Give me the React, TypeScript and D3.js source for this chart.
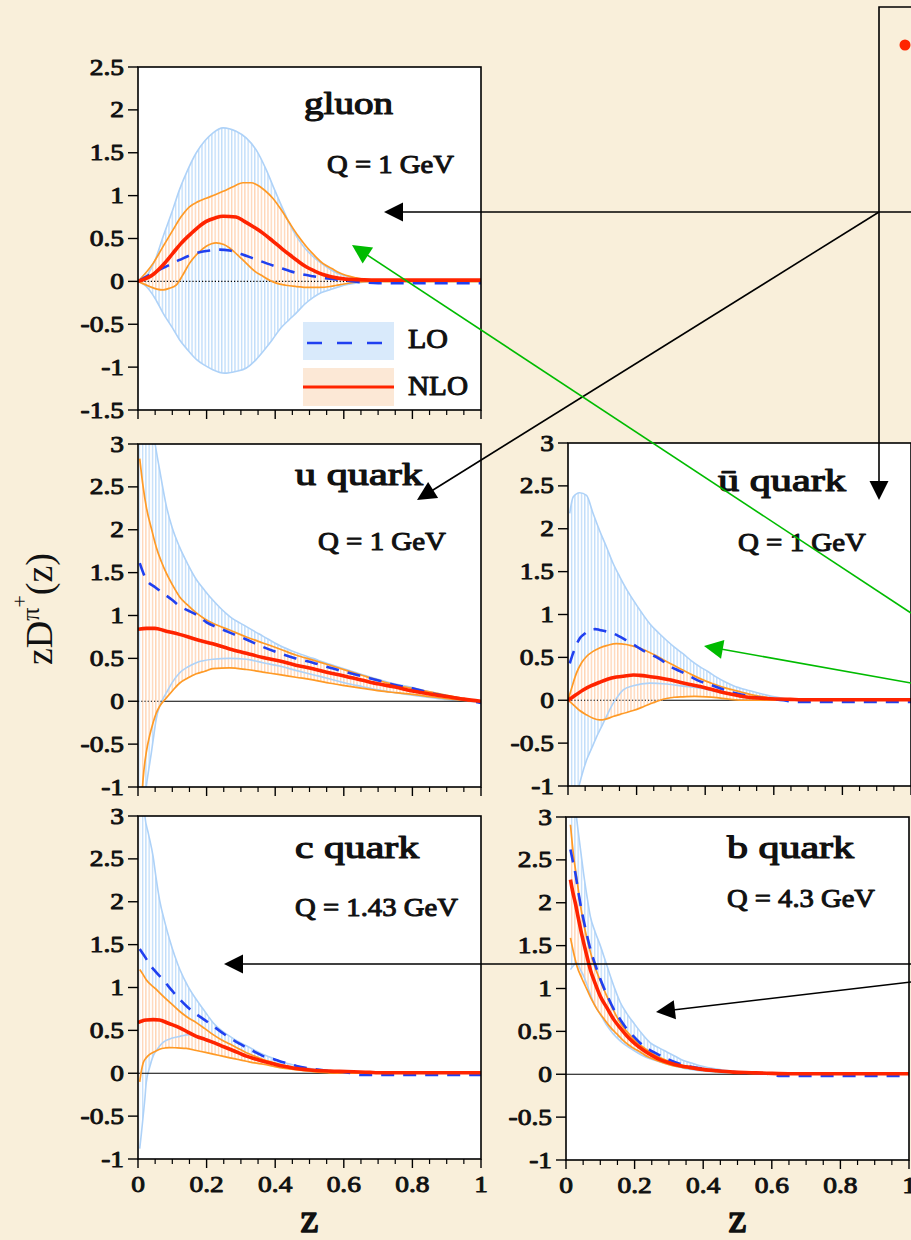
import React from "react";
import * as d3 from "d3";

type Pt = [number, number];

// ---------- tick values ----------
const gluonYTicks = [-1.5, -1, -0.5, 0, 0.5, 1, 1.5, 2, 2.5];
const quarkYTicks = [-1, -0.5, 0, 0.5, 1, 1.5, 2, 2.5, 3];
const xMajorTicks = [0, 0.2, 0.4, 0.6, 0.8, 1];
const xMinorTicks = [0.05, 0.1, 0.15, 0.25, 0.3, 0.35, 0.45, 0.5, 0.55, 0.65, 0.7, 0.75, 0.85, 0.9, 0.95];

// ---------- gluon, Q = 1 GeV ----------
const gluonLOUp: Pt[] = [[0,0],[0.024,0.06],[0.05,0.25],[0.073,0.52],[0.1,0.82],[0.121,1.07],[0.145,1.3],[0.17,1.5],[0.195,1.64],[0.218,1.73],[0.248,1.79],[0.286,1.75],[0.316,1.67],[0.345,1.53],[0.374,1.3],[0.398,1.07],[0.413,0.93],[0.451,0.6],[0.48,0.42],[0.51,0.29],[0.545,0.18],[0.578,0.1],[0.62,0.05],[0.655,0.02],[0.7,0],[1,0]];
const gluonLOLow: Pt[] = [[0,0],[0.024,-0.06],[0.05,-0.2],[0.073,-0.37],[0.1,-0.54],[0.121,-0.68],[0.145,-0.8],[0.17,-0.91],[0.195,-0.98],[0.218,-1.03],[0.252,-1.07],[0.285,-1.05],[0.316,-1.01],[0.34,-0.93],[0.364,-0.82],[0.39,-0.69],[0.413,-0.56],[0.44,-0.45],[0.461,-0.37],[0.485,-0.27],[0.51,-0.19],[0.535,-0.13],[0.558,-0.1],[0.607,-0.04],[0.655,-0.01],[0.7,0],[1,0]];
const gluonLO: Pt[] = [[0,0],[0.044,0.1],[0.08,0.17],[0.121,0.25],[0.17,0.33],[0.21,0.36],[0.238,0.37],[0.267,0.36],[0.3,0.32],[0.335,0.27],[0.375,0.21],[0.413,0.16],[0.46,0.1],[0.51,0.06],[0.56,0.03],[0.607,0.01],[0.65,-0.01],[0.7,-0.02],[1,-0.02]];
const gluonNLOUp: Pt[] = [[0,0],[0.044,0.21],[0.075,0.42],[0.102,0.6],[0.125,0.75],[0.15,0.87],[0.175,0.93],[0.199,0.97],[0.225,1.01],[0.248,1.05],[0.275,1.1],[0.306,1.15],[0.33,1.15],[0.345,1.13],[0.37,1.06],[0.393,0.97],[0.42,0.82],[0.442,0.68],[0.465,0.54],[0.49,0.41],[0.515,0.3],[0.539,0.21],[0.565,0.15],[0.587,0.1],[0.636,0.04],[0.684,0.01],[0.72,0],[1,0]];
const gluonNLOLow: Pt[] = [[0,0],[0.034,-0.06],[0.055,-0.09],[0.073,-0.1],[0.092,-0.08],[0.112,-0.04],[0.13,0.07],[0.15,0.21],[0.175,0.33],[0.199,0.41],[0.228,0.45],[0.25,0.43],[0.267,0.39],[0.29,0.31],[0.316,0.21],[0.34,0.12],[0.364,0.06],[0.385,0.01],[0.403,-0.02],[0.43,-0.045],[0.461,-0.06],[0.5,-0.07],[0.53,-0.07],[0.56,-0.06],[0.587,-0.04],[0.636,-0.01],[0.684,0],[1,0]];
const gluonNLO: Pt[] = [[0,0],[0.044,0.08],[0.075,0.2],[0.102,0.33],[0.125,0.44],[0.15,0.54],[0.175,0.63],[0.199,0.7],[0.225,0.74],[0.248,0.76],[0.286,0.75],[0.31,0.7],[0.335,0.64],[0.365,0.56],[0.393,0.47],[0.42,0.38],[0.442,0.31],[0.465,0.24],[0.49,0.17],[0.515,0.12],[0.539,0.08],[0.587,0.035],[0.636,0.02],[0.68,0.015],[1,0.015]];

// ---------- u quark, Q = 1 GeV ----------
const uLOUp: Pt[] = [[0,4.5],[0.03,3.6],[0.05,3.0],[0.063,2.7],[0.083,2.27],[0.1,2.02],[0.121,1.8],[0.145,1.6],[0.17,1.42],[0.195,1.29],[0.218,1.18],[0.267,0.99],[0.316,0.87],[0.364,0.76],[0.413,0.65],[0.46,0.57],[0.51,0.5],[0.56,0.43],[0.607,0.37],[0.655,0.31],[0.704,0.25],[0.75,0.2],[0.801,0.16],[0.85,0.11],[0.898,0.07],[0.95,0.03],[1,-0.01]];
const uLOLow: Pt[] = [[0.005,-2],[0.024,-1.0],[0.032,-0.78],[0.039,-0.6],[0.046,-0.4],[0.053,-0.21],[0.063,-0.06],[0.073,0.03],[0.083,0.1],[0.1,0.22],[0.121,0.33],[0.145,0.4],[0.17,0.45],[0.218,0.49],[0.267,0.5],[0.316,0.49],[0.364,0.45],[0.413,0.41],[0.46,0.36],[0.51,0.31],[0.56,0.26],[0.607,0.21],[0.655,0.17],[0.704,0.13],[0.75,0.1],[0.8,0.07],[0.85,0.045],[0.9,0.02],[1,-0.01]];
const uLO: Pt[] = [[0.005,1.61],[0.024,1.42],[0.05,1.33],[0.073,1.26],[0.1,1.18],[0.121,1.11],[0.145,1.06],[0.17,1.01],[0.2,0.92],[0.238,0.85],[0.28,0.78],[0.316,0.72],[0.36,0.64],[0.413,0.56],[0.46,0.5],[0.51,0.45],[0.56,0.39],[0.607,0.34],[0.655,0.29],[0.704,0.24],[0.75,0.19],[0.8,0.15],[0.85,0.1],[0.898,0.06],[0.95,0.02],[1,-0.02]];
const uNLOUp: Pt[] = [[0.005,2.83],[0.015,2.5],[0.024,2.27],[0.04,2.0],[0.053,1.8],[0.068,1.63],[0.083,1.49],[0.1,1.36],[0.121,1.22],[0.145,1.12],[0.17,1.03],[0.195,0.96],[0.218,0.91],[0.267,0.83],[0.316,0.75],[0.364,0.68],[0.413,0.61],[0.46,0.54],[0.51,0.48],[0.56,0.42],[0.607,0.36],[0.655,0.3],[0.704,0.24],[0.75,0.19],[0.8,0.15],[0.85,0.11],[0.9,0.07],[0.95,0.03],[1,0]];
const uNLOLow: Pt[] = [[0.01,-1.2],[0.015,-0.9],[0.024,-0.6],[0.034,-0.4],[0.044,-0.25],[0.053,-0.14],[0.063,-0.06],[0.083,0.04],[0.1,0.12],[0.121,0.21],[0.145,0.27],[0.17,0.32],[0.195,0.35],[0.218,0.38],[0.267,0.39],[0.316,0.37],[0.364,0.34],[0.413,0.31],[0.46,0.28],[0.51,0.25],[0.56,0.21],[0.607,0.18],[0.655,0.15],[0.704,0.12],[0.75,0.1],[0.8,0.08],[0.85,0.055],[0.9,0.03],[0.95,0.01],[1,0]];
const uNLO: Pt[] = [[0,0.84],[0.025,0.85],[0.049,0.85],[0.08,0.82],[0.121,0.78],[0.17,0.72],[0.218,0.67],[0.267,0.61],[0.316,0.56],[0.364,0.51],[0.413,0.47],[0.46,0.42],[0.51,0.38],[0.56,0.33],[0.607,0.29],[0.655,0.245],[0.704,0.2],[0.75,0.165],[0.8,0.12],[0.85,0.085],[0.9,0.055],[0.95,0.025],[1,0]];

// ---------- u-bar quark, Q = 1 GeV ----------
const ubLOUp: Pt[] = [[0.005,2.18],[0.015,2.37],[0.034,2.42],[0.054,2.39],[0.073,2.18],[0.092,1.98],[0.112,1.79],[0.131,1.6],[0.151,1.44],[0.17,1.3],[0.19,1.17],[0.215,1.02],[0.239,0.89],[0.263,0.79],[0.287,0.7],[0.31,0.62],[0.336,0.54],[0.36,0.46],[0.385,0.39],[0.41,0.33],[0.433,0.27],[0.46,0.21],[0.482,0.17],[0.531,0.11],[0.579,0.06],[0.628,0.02],[0.677,0],[1,0]];
const ubLOLow: Pt[] = [[0.005,-1.4],[0.029,-1.05],[0.04,-0.88],[0.054,-0.7],[0.07,-0.55],[0.083,-0.43],[0.1,-0.29],[0.112,-0.19],[0.131,-0.04],[0.146,0.05],[0.161,0.12],[0.19,0.17],[0.239,0.2],[0.287,0.19],[0.336,0.165],[0.385,0.14],[0.433,0.1],[0.482,0.06],[0.53,0.035],[0.579,0.02],[0.628,0.01],[0.677,0],[1,0]];
const ubLO: Pt[] = [[0.005,0.43],[0.015,0.55],[0.034,0.72],[0.05,0.78],[0.063,0.82],[0.08,0.83],[0.092,0.82],[0.131,0.78],[0.17,0.7],[0.219,0.58],[0.268,0.48],[0.3,0.39],[0.326,0.34],[0.355,0.28],[0.385,0.22],[0.415,0.18],[0.443,0.14],[0.47,0.1],[0.501,0.07],[0.54,0.04],[0.579,0.02],[0.628,0],[0.66,-0.02],[1,-0.02]];
const ubNLOUp: Pt[] = [[0,0],[0.012,0.16],[0.024,0.31],[0.04,0.44],[0.054,0.51],[0.073,0.57],[0.092,0.61],[0.115,0.64],[0.141,0.66],[0.17,0.65],[0.19,0.63],[0.209,0.61],[0.233,0.565],[0.258,0.52],[0.283,0.46],[0.307,0.41],[0.336,0.35],[0.365,0.29],[0.395,0.235],[0.424,0.19],[0.453,0.15],[0.482,0.12],[0.51,0.09],[0.54,0.06],[0.57,0.04],[0.599,0.02],[0.648,0],[1,0]];
const ubNLOLow: Pt[] = [[0,0],[0.015,-0.05],[0.034,-0.12],[0.054,-0.17],[0.073,-0.21],[0.092,-0.23],[0.11,-0.22],[0.131,-0.19],[0.16,-0.155],[0.19,-0.12],[0.22,-0.075],[0.248,-0.03],[0.268,0],[0.287,0.02],[0.31,0.035],[0.336,0.04],[0.37,0.045],[0.404,0.04],[0.433,0.03],[0.463,0.015],[0.5,0],[1,0]];
const ubNLO: Pt[] = [[0,0],[0.022,0.06],[0.044,0.12],[0.068,0.17],[0.092,0.21],[0.115,0.245],[0.141,0.27],[0.17,0.285],[0.19,0.295],[0.209,0.29],[0.24,0.275],[0.268,0.26],[0.3,0.235],[0.326,0.21],[0.355,0.185],[0.385,0.16],[0.415,0.13],[0.443,0.1],[0.47,0.075],[0.501,0.05],[0.54,0.03],[0.579,0.02],[0.648,0.01],[0.7,0.005],[1,0.005]];

// ---------- c quark, Q = 1.43 GeV ----------
const cLOUp: Pt[] = [[0.005,4.0],[0.02,3.0],[0.03,2.8],[0.044,2.53],[0.053,2.27],[0.063,2.02],[0.077,1.78],[0.092,1.56],[0.107,1.37],[0.122,1.21],[0.145,1.02],[0.17,0.86],[0.195,0.72],[0.219,0.59],[0.243,0.5],[0.268,0.43],[0.292,0.37],[0.316,0.32],[0.34,0.27],[0.365,0.22],[0.39,0.18],[0.413,0.14],[0.44,0.11],[0.462,0.085],[0.511,0.05],[0.56,0.02],[0.608,0.005],[0.65,0],[1,0]];
const cLOLow: Pt[] = [[0.005,-0.88],[0.01,-0.7],[0.015,-0.5],[0.02,-0.3],[0.024,-0.11],[0.034,0.07],[0.044,0.2],[0.058,0.29],[0.073,0.36],[0.1,0.41],[0.122,0.43],[0.151,0.45],[0.175,0.43],[0.2,0.4],[0.235,0.34],[0.268,0.28],[0.292,0.24],[0.316,0.2],[0.34,0.17],[0.365,0.14],[0.39,0.11],[0.413,0.09],[0.46,0.055],[0.511,0.03],[0.56,0.012],[0.608,0],[1,0]];
const cLO: Pt[] = [[0.005,1.45],[0.02,1.36],[0.034,1.27],[0.05,1.19],[0.073,1.09],[0.1,0.96],[0.122,0.86],[0.145,0.77],[0.17,0.69],[0.195,0.62],[0.219,0.55],[0.243,0.48],[0.268,0.41],[0.292,0.355],[0.316,0.3],[0.34,0.25],[0.365,0.2],[0.39,0.17],[0.413,0.14],[0.44,0.11],[0.462,0.085],[0.51,0.05],[0.56,0.025],[0.608,0.01],[0.65,-0.02],[1,-0.02]];
const cNLOUp: Pt[] = [[0.005,1.21],[0.015,1.15],[0.024,1.09],[0.05,0.99],[0.073,0.9],[0.1,0.8],[0.122,0.72],[0.145,0.65],[0.17,0.59],[0.195,0.52],[0.219,0.45],[0.243,0.39],[0.268,0.34],[0.292,0.29],[0.316,0.24],[0.34,0.2],[0.365,0.16],[0.39,0.13],[0.413,0.105],[0.44,0.08],[0.462,0.06],[0.51,0.03],[0.56,0.01],[0.61,0],[1,0]];
const cNLOLow: Pt[] = [[0.005,-0.1],[0.01,0.03],[0.015,0.12],[0.024,0.18],[0.034,0.22],[0.048,0.25],[0.063,0.28],[0.08,0.295],[0.092,0.3],[0.115,0.295],[0.141,0.29],[0.17,0.265],[0.2,0.24],[0.234,0.21],[0.268,0.18],[0.292,0.16],[0.316,0.14],[0.34,0.12],[0.365,0.105],[0.39,0.085],[0.413,0.065],[0.44,0.05],[0.462,0.04],[0.51,0.02],[0.56,0.005],[0.6,0],[1,0]];
const cNLO: Pt[] = [[0,0.59],[0.012,0.61],[0.024,0.62],[0.045,0.625],[0.063,0.62],[0.09,0.58],[0.122,0.53],[0.145,0.48],[0.17,0.43],[0.195,0.395],[0.219,0.36],[0.243,0.32],[0.268,0.28],[0.292,0.24],[0.316,0.2],[0.34,0.17],[0.365,0.14],[0.39,0.115],[0.413,0.09],[0.44,0.07],[0.462,0.055],[0.51,0.035],[0.56,0.025],[0.608,0.02],[0.676,0.01],[0.7,0.005],[1,0.005]];

// ---------- b quark, Q = 4.3 GeV ----------
const bLOUp: Pt[] = [[0.008,3.3],[0.027,3.1],[0.035,2.85],[0.043,2.6],[0.051,2.35],[0.061,2.08],[0.071,1.84],[0.085,1.66],[0.1,1.5],[0.115,1.32],[0.129,1.15],[0.143,0.99],[0.158,0.84],[0.177,0.71],[0.197,0.6],[0.22,0.48],[0.245,0.37],[0.27,0.31],[0.294,0.26],[0.318,0.21],[0.342,0.16],[0.366,0.13],[0.391,0.1],[0.44,0.06],[0.488,0.035],[0.54,0.02],[0.585,0.01],[0.65,0],[1,0]];
const bLOLow: Pt[] = [[0.013,1.22],[0.02,1.26],[0.032,1.3],[0.042,1.22],[0.051,1.15],[0.065,1.0],[0.08,0.84],[0.1,0.7],[0.119,0.57],[0.138,0.47],[0.158,0.39],[0.177,0.33],[0.197,0.28],[0.22,0.225],[0.245,0.18],[0.27,0.15],[0.294,0.12],[0.318,0.095],[0.342,0.07],[0.366,0.055],[0.391,0.04],[0.44,0.025],[0.488,0.015],[0.54,0.005],[0.585,0],[1,0]];
const bLO: Pt[] = [[0.013,2.62],[0.02,2.48],[0.027,2.35],[0.037,2.1],[0.047,1.88],[0.059,1.66],[0.071,1.46],[0.085,1.28],[0.1,1.11],[0.12,0.92],[0.139,0.76],[0.158,0.64],[0.177,0.53],[0.2,0.43],[0.226,0.33],[0.25,0.27],[0.274,0.22],[0.3,0.17],[0.333,0.12],[0.36,0.09],[0.391,0.07],[0.44,0.04],[0.488,0.025],[0.54,0.012],[0.585,0.005],[0.62,-0.02],[1,-0.02]];
const bNLOUp: Pt[] = [[0.013,2.91],[0.022,2.55],[0.032,2.27],[0.041,2.0],[0.051,1.77],[0.065,1.52],[0.08,1.3],[0.1,1.09],[0.119,0.91],[0.138,0.75],[0.158,0.6],[0.177,0.5],[0.197,0.41],[0.22,0.33],[0.245,0.26],[0.27,0.2],[0.294,0.16],[0.318,0.13],[0.342,0.1],[0.366,0.08],[0.391,0.06],[0.44,0.04],[0.488,0.025],[0.54,0.012],[0.585,0.005],[0.65,0],[1,0]];
const bNLOLow: Pt[] = [[0.013,1.59],[0.022,1.42],[0.032,1.26],[0.046,1.12],[0.061,0.99],[0.075,0.87],[0.09,0.76],[0.11,0.65],[0.129,0.55],[0.148,0.47],[0.168,0.39],[0.19,0.32],[0.216,0.26],[0.24,0.2],[0.265,0.16],[0.294,0.12],[0.323,0.09],[0.355,0.07],[0.391,0.05],[0.44,0.03],[0.488,0.02],[0.54,0.01],[0.585,0.005],[0.65,0],[1,0]];
const bNLO: Pt[] = [[0.013,2.27],[0.02,2.12],[0.027,2.0],[0.037,1.8],[0.047,1.61],[0.059,1.41],[0.071,1.22],[0.085,1.06],[0.1,0.91],[0.12,0.77],[0.139,0.64],[0.158,0.54],[0.177,0.45],[0.2,0.36],[0.226,0.28],[0.25,0.22],[0.274,0.17],[0.3,0.135],[0.333,0.1],[0.36,0.08],[0.391,0.06],[0.44,0.04],[0.488,0.025],[0.54,0.018],[0.585,0.012],[0.66,0.005],[0.7,0.005],[1,0.005]];

// ---------- text ----------
const titles = ["gluon", "u quark", "\u016B quark", "c quark", "b quark"];
const scales = ["Q = 1 GeV", "Q = 1 GeV", "Q = 1 GeV", "Q = 1.43 GeV", "Q = 4.3 GeV"];

// ---------- layout (positions / styles) ----------
const SIZE = 343;
const FONT = "'Liberation Serif', 'Times New Roman', serif";
const INK = "#111";
// faux-bold: regular Times-like glyphs thickened with a stroke of the same colour
const bold = (w: number) => ({ fontFamily: FONT, fontWeight: "normal" as const, fill: INK, stroke: INK, strokeWidth: w, strokeLinejoin: "round" as const });
const C = {
  bg: "#F9EFDA",
  hatchBlue: "#b9d9f9",
  hatchOrange: "#ffd0ac",
  bandBlue: "#aed2f8",
  orange: "#ff9a26",
  red: "#ff2400",
  blue: "#2040f0",
  green: "#00bb00",
};

type PanelCfg = {
  id: string;
  left: number;
  top: number;
  yDomain: [number, number];
  yTicks: number[];
  loUp: Pt[]; loLow: Pt[]; lo: Pt[];
  nloUp: Pt[]; nloLow: Pt[]; nlo: Pt[];
  title: string; titleX: number; titleY: number; titleW: number;
  q: string; qX: number; qY: number; qW: number;
  dottedTo: number;
  xLabels: boolean;
  legend?: boolean;
};

const panels: PanelCfg[] = [
  { id: "g", left: 138, top: 67, yDomain: [-1.5, 2.5], yTicks: gluonYTicks,
    loUp: gluonLOUp, loLow: gluonLOLow, lo: gluonLO, nloUp: gluonNLOUp, nloLow: gluonNLOLow, nlo: gluonNLO,
    title: titles[0], titleX: 166, titleY: 47, titleW: 89, q: scales[0], qX: 189, qY: 106, qW: 127, dottedTo: 1, xLabels: false, legend: true },
  { id: "u", left: 138, top: 444, yDomain: [-1, 3], yTicks: quarkYTicks,
    loUp: uLOUp, loLow: uLOLow, lo: uLO, nloUp: uNLOUp, nloLow: uNLOLow, nlo: uNLO,
    title: titles[1], titleX: 157, titleY: 41, titleW: 128, q: scales[1], qX: 180, qY: 106, qW: 128, dottedTo: 0.075, xLabels: false },
  { id: "ub", left: 568, top: 443, yDomain: [-1, 3], yTicks: quarkYTicks,
    loUp: ubLOUp, loLow: ubLOLow, lo: ubLO, nloUp: ubNLOUp, nloLow: ubNLOLow, nlo: ubNLO,
    title: titles[2], titleX: 150, titleY: 48, titleW: 128, q: scales[2], qX: 170, qY: 108, qW: 128, dottedTo: 0.275, xLabels: false },
  { id: "c", left: 138, top: 816, yDomain: [-1, 3], yTicks: quarkYTicks,
    loUp: cLOUp, loLow: cLOLow, lo: cLO, nloUp: cNLOUp, nloLow: cNLOLow, nlo: cNLO,
    title: titles[3], titleX: 157, titleY: 42, titleW: 124, q: scales[3], qX: 157, qY: 100, qW: 163, dottedTo: 0, xLabels: true },
  { id: "b", left: 566, top: 817, yDomain: [-1, 3], yTicks: quarkYTicks,
    loUp: bLOUp, loLow: bLOLow, lo: bLO, nloUp: bNLOUp, nloLow: bNLOLow, nlo: bNLO,
    title: titles[4], titleX: 161, titleY: 41, titleW: 127, q: scales[4], qX: 161, qY: 90, qW: 148, dottedTo: 0, xLabels: true },
];

function fmt(v: number) {
  return String(v);
}

function Panel({ p }: { p: PanelCfg }) {
  const x = d3.scaleLinear().domain([0, 1]).range([p.left, p.left + SIZE]);
  const y = d3.scaleLinear().domain(p.yDomain).range([p.top + SIZE, p.top]);
  const line = d3.line<Pt>().x((d) => x(d[0])).y((d) => y(d[1])).curve(d3.curveMonotoneX);
  const band = (up: Pt[], low: Pt[]) => {
    const a = line(up) as string;
    const b = (line(low.slice().reverse()) as string).replace(/^M/, "L");
    return a + b + "Z";
  };
  const clip = `clip-${p.id}`;
  const bottom = p.top + SIZE;
  const zeroY = y(0);
  return (
    <g>
      <defs>
        <clipPath id={clip}>
          <rect x={p.left} y={p.top} width={SIZE} height={SIZE} />
        </clipPath>
      </defs>
      <rect x={p.left} y={p.top} width={SIZE} height={SIZE} fill="#ffffff" />
      <g clipPath={`url(#${clip})`}>
        <path d={band(p.loUp, p.loLow)} fill="url(#hatchBlue)" />
        <path d={band(p.nloUp, p.nloLow)} fill="#ffffff" />
        <path d={band(p.nloUp, p.nloLow)} fill="url(#hatchOrange)" />
        <path d={line(p.loUp) as string} fill="none" stroke={C.bandBlue} strokeWidth={1.6} />
        <path d={line(p.loLow) as string} fill="none" stroke={C.bandBlue} strokeWidth={1.6} />
        {p.dottedTo > 0 && (
          <line x1={x(0)} x2={x(p.dottedTo)} y1={zeroY} y2={zeroY} stroke="#000" strokeWidth={1.1} strokeDasharray="1.2 2" />
        )}
        {p.dottedTo < 1 && (
          <line x1={x(p.dottedTo)} x2={x(1)} y1={zeroY} y2={zeroY} stroke="#000" strokeWidth={1.1} />
        )}
        <path d={line(p.nloUp) as string} fill="none" stroke={C.orange} strokeWidth={1.7} />
        <path d={line(p.nloLow) as string} fill="none" stroke={C.orange} strokeWidth={1.7} />
        <path d={line(p.lo) as string} fill="none" stroke={C.blue} strokeWidth={2.6} strokeDasharray="13 9" />
        <path d={line(p.nlo) as string} fill="none" stroke={C.red} strokeWidth={3.6} strokeLinejoin="round" />
      </g>
      <rect x={p.left} y={p.top} width={SIZE} height={SIZE} fill="none" stroke="#000" strokeWidth={1.6} />
      {/* y ticks */}
      {p.yTicks.map((t) => (
        <g key={`y${t}`}>
          <line x1={p.left - 10} x2={p.left} y1={y(t)} y2={y(t)} stroke="#000" strokeWidth={1.4} />
          <text
            transform={`translate(${p.left - 14},${y(t) + 7.5}) scale(1.22,1)`}
            textAnchor="end"
            fontSize={22.5}
            {...bold(0.9)}
          >
            {fmt(t)}
          </text>
        </g>
      ))}
      {/* x ticks */}
      {xMajorTicks.map((t) => (
        <line key={`xM${t}`} x1={x(t)} x2={x(t)} y1={bottom} y2={bottom + 9} stroke="#000" strokeWidth={1.4} />
      ))}
      {xMinorTicks.map((t) => (
        <line key={`xm${t}`} x1={x(t)} x2={x(t)} y1={bottom} y2={bottom + 5} stroke="#000" strokeWidth={1.2} />
      ))}
      {p.xLabels &&
        xMajorTicks.map((t) => (
          <text
            key={`xl${t}`}
            transform={`translate(${x(t)},${bottom + 33}) scale(1.22,1)`}
            textAnchor="middle"
            fontSize={22.5}
            {...bold(0.9)}
          >
            {fmt(t)}
          </text>
        ))}
      {p.xLabels && (
        <text x={x(0.5)} y={1232} textAnchor="middle" fontSize={40} {...bold(1.6)}>
          z
        </text>
      )}
      {/* title and scale */}
      <text
        x={p.left + p.titleX}
        y={p.top + p.titleY}
        fontSize={32}
        textLength={p.titleW}
        lengthAdjust="spacingAndGlyphs"
        {...bold(1.2)}
      >
        {p.title}
      </text>
      <text
        x={p.left + p.qX}
        y={p.top + p.qY}
        fontSize={26}
        textLength={p.qW}
        lengthAdjust="spacingAndGlyphs"
        {...bold(1.0)}
      >
        {p.q}
      </text>
      {p.legend && (
        <g>
          <rect x={p.left + 165} y={p.top + 255} width={91} height={38} fill="#d9eafb" />
          <rect x={p.left + 165} y={p.top + 301} width={91} height={38} fill="#fce8d6" />
          <line x1={p.left + 169} x2={p.left + 252} y1={p.top + 276} y2={p.top + 276} stroke={C.blue} strokeWidth={2.6} strokeDasharray="15 15" />
          <line x1={p.left + 165} x2={p.left + 256} y1={p.top + 320} y2={p.top + 320} stroke={C.red} strokeWidth={3} />
          <text x={p.left + 270} y={p.top + 281} fontSize={27} textLength={40} lengthAdjust="spacingAndGlyphs" {...bold(1.0)}>LO</text>
          <text x={p.left + 270} y={p.top + 328} fontSize={27} textLength={60} lengthAdjust="spacingAndGlyphs" {...bold(1.0)}>NLO</text>
        </g>
      )}
    </g>
  );
}

function Arrow({ x1, y1, x2, y2, color, w = 1.6, len = 19, hw = 9.5 }: { x1: number; y1: number; x2: number; y2: number; color: string; w?: number; len?: number; hw?: number }) {
  const a = Math.atan2(y2 - y1, x2 - x1);
  const bx = x2 - len * Math.cos(a);
  const by = y2 - len * Math.sin(a);
  const px = -Math.sin(a) * hw;
  const py = Math.cos(a) * hw;
  return (
    <g>
      <line x1={x1} y1={y1} x2={bx + Math.cos(a) * 2} y2={by + Math.sin(a) * 2} stroke={color} strokeWidth={w} />
      <polygon points={`${x2},${y2} ${bx + px},${by + py} ${bx - px},${by - py}`} fill={color} />
    </g>
  );
}

export default function App() {
  return (
    <svg
      width={911}
      height={1240}
      viewBox="0 0 911 1240"
      style={{ position: "absolute", left: 0, top: 0, display: "block" }}
    >
      <defs>
        <pattern id="hatchBlue" patternUnits="userSpaceOnUse" width={3.3} height={20}>
          <line x1={0.7} x2={0.7} y1={0} y2={20} stroke={C.hatchBlue} strokeWidth={1.2} />
        </pattern>
        <pattern id="hatchOrange" patternUnits="userSpaceOnUse" width={3.3} height={20}>
          <line x1={0.7} x2={0.7} y1={0} y2={20} stroke={C.hatchOrange} strokeWidth={1.2} />
        </pattern>
      </defs>
      <rect x={0} y={0} width={911} height={1240} fill={C.bg} />
      {panels.map((p) => (
        <Panel key={p.id} p={p} />
      ))}
      {/* y axis label */}
      <text transform="translate(52,609) rotate(-90)" textAnchor="middle" fontFamily={FONT} fontSize={38} fill={INK}>
        zD
        <tspan dy={-13} fontSize={26}>π</tspan>
        <tspan dy={-12} fontSize={22}>+</tspan>
        <tspan dy={25} fontSize={38}>(z)</tspan>
      </text>
      {/* annotations */}
      <polyline points="911,7 879,7 879,212 911,212" fill="none" stroke="#000" strokeWidth={1.6} />
      <circle cx={905} cy={45} r={5.5} fill={C.red} />
      <Arrow x1={879} y1={212} x2={384} y2={212} color="#000" />
      <Arrow x1={879} y1={212} x2={417} y2={500} color="#000" />
      <Arrow x1={879} y1={212} x2={879} y2={500} color="#000" />
      <Arrow x1={911} y1={613} x2={352} y2={245} color={C.green} />
      <Arrow x1={911} y1={683} x2={704} y2={646} color={C.green} />
      <Arrow x1={911} y1={964} x2={224} y2={964} color="#000" />
      <Arrow x1={911} y1={982} x2={656} y2={1012} color="#000" />
    </svg>
  );
}
